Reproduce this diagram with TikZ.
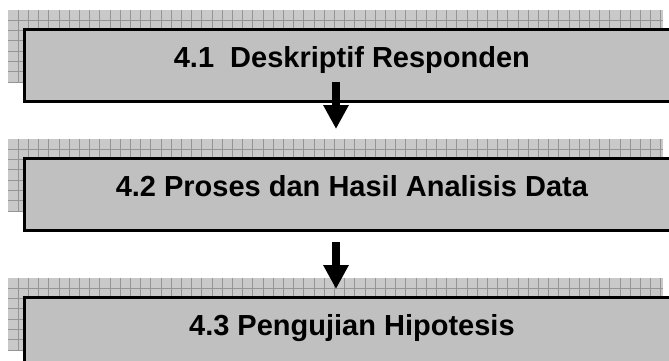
\documentclass[tikz,border=0pt]{standalone}
\usepackage{fontspec}
\setmainfont{Liberation Sans}
\usetikzlibrary{arrows.meta,calc,backgrounds}
\definecolor{boxgray}{HTML}{C0C0C0}
\definecolor{shadefill}{HTML}{C9C9C9}
\definecolor{gridline}{HTML}{959595}
\begin{document}
\begin{tikzpicture}[x=1pt,y=-1pt,
  stage/.style={rectangle,draw=black,line width=2.8pt,fill=boxgray,
    anchor=north west,minimum width=655pt,inner xsep=0pt,inner ysep=0pt,
    text height=38pt,text depth=34pt,
    font=\bfseries\fontsize{29}{34}\selectfont},
  flow/.style={line width=8pt,line cap=butt,
    -{Triangle[width=24pt,length=24pt]}}]
\useasboundingbox (0,0) rectangle (669,360);
\clip (0,0) rectangle (669,360);

% the three stages
\node[stage] (b1) at (23,28)  {4.1~ Deskriptif Responden};
\node[stage] (b2) at (23,157) {4.2 Proses dan Hasil Analisis Data};
\node[stage] (b3) at (23,296) {4.3 Pengujian Hipotesis};

% gridded shadow behind each stage, shifted up and to the left
\begin{scope}[on background layer]
  \foreach \b in {b1,b2,b3}{
    \begin{scope}[shift={($(\b.north west)+(-15,-18)$)}]
      \path[clip] (0,0) rectangle (655,73);
      \fill[shadefill] (0,0) rectangle (655,73);
      \foreach \i in {1,...,64}
        \draw[gridline,line width=0.9pt] (10.2*\i,0) -- (10.2*\i,73);
      \foreach \j in {1,...,7}
        \draw[gridline,line width=0.9pt] (0,10.3*\j) -- (655,10.3*\j);
    \end{scope}
  }
\end{scope}

% flow arrows between stages
\coordinate (a1s) at (336,82);
\coordinate (a1e) at (336,129);
\coordinate (a2s) at (336,242);
\coordinate (a2e) at (336,289);
\draw[flow] (a1s) -- (a1e);
\draw[flow] (a2s) -- (a2e);
\end{tikzpicture}
\end{document}
